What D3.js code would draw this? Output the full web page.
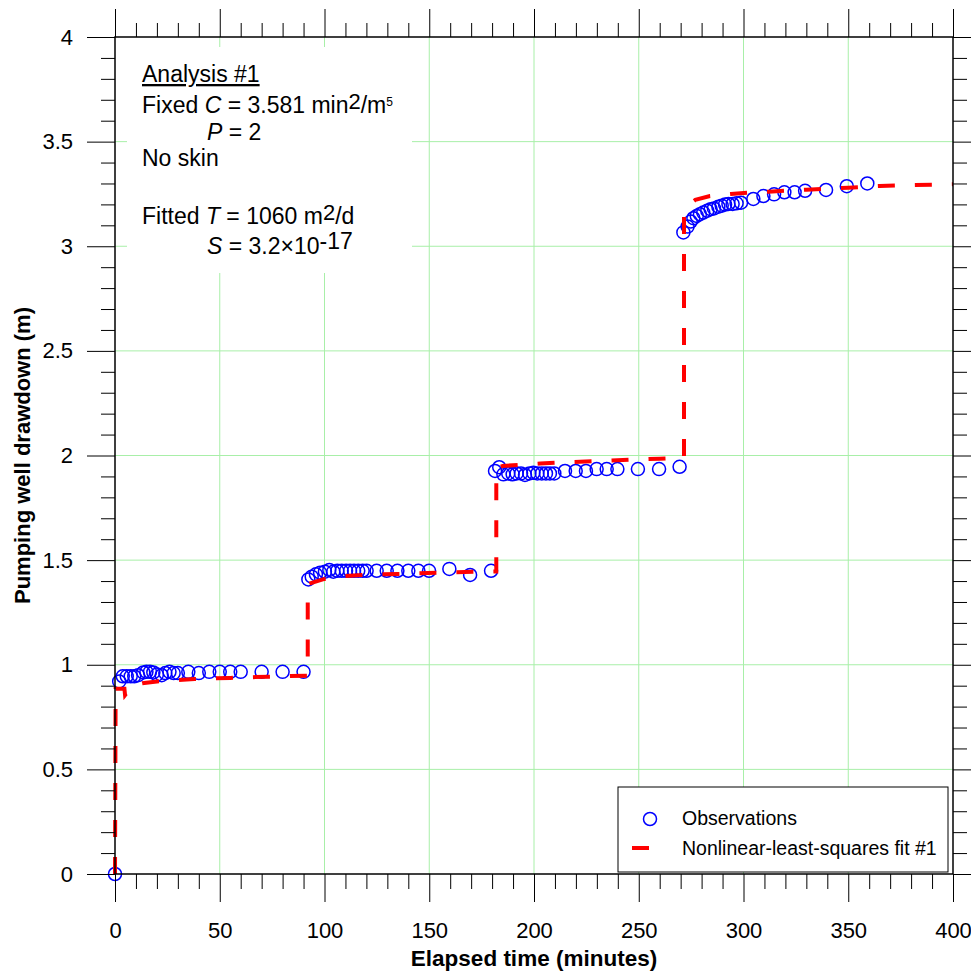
<!DOCTYPE html>
<html>
<head>
<meta charset="utf-8">
<script src="https://cdn.jsdelivr.net/npm/d3@7"></script>
<style>
  body { margin: 0; background: #fff; }
  svg { display: block; font-family: "Liberation Sans", Arial, sans-serif; }
</style>
</head>
<body>
<svg id="chart"></svg>
<script>
// Observed drawdown (minutes, metres)
const obsTime = [
  0, 2, 3.7, 5.6, 7.5, 9.2, 11, 13.5, 15, 16.7, 18.3, 20, 22.3, 24, 26, 28, 30, 35, 40, 45, 50, 55, 60, 70, 80, 90,
  92.3, 93.9, 95.9, 97.9, 100.2, 102.3, 104.2, 106.1, 108.2, 110.3, 112.2, 114.1, 116.1, 118.2, 120.1, 124.9, 129.7, 134.8, 140, 144.8, 149.9, 159.6, 169.5, 179.5,
  181.4, 183.4, 185.4, 187.7, 189.8, 191.7, 193.8, 195.7, 197.8, 199.7, 201.6, 203.7, 205.7, 207.6, 209.7, 214.8, 219.9, 224.8, 229.9, 234.7, 239.8, 249.6, 259.7, 269.5,
  271.3, 273.3, 274.8, 276.1, 277.7, 279.2, 280.8, 282.7, 284.3, 285.9, 288, 289.6, 291.2, 292.8, 294.8, 296.7, 298.8, 304.7, 309.5, 314.6, 319.5, 324.4, 329.4, 339.4, 349.3, 359.1
];
const obsDrawdown = [
  0, 0.92, 0.945, 0.945, 0.945, 0.945, 0.95, 0.963, 0.966, 0.966, 0.963, 0.953, 0.95, 0.96, 0.966, 0.96, 0.96, 0.966, 0.96, 0.966, 0.966, 0.966, 0.966, 0.966, 0.966, 0.966,
  1.408, 1.421, 1.432, 1.44, 1.445, 1.453, 1.445, 1.449, 1.449, 1.449, 1.449, 1.449, 1.449, 1.449, 1.449, 1.449, 1.449, 1.449, 1.449, 1.449, 1.449, 1.458, 1.429, 1.449,
  1.926, 1.944, 1.91, 1.914, 1.91, 1.914, 1.914, 1.907, 1.914, 1.917, 1.914, 1.914, 1.914, 1.914, 1.914, 1.926, 1.926, 1.926, 1.935, 1.935, 1.935, 1.935, 1.935, 1.946,
  3.066, 3.094, 3.118, 3.134, 3.145, 3.153, 3.161, 3.17, 3.177, 3.181, 3.189, 3.194, 3.199, 3.202, 3.202, 3.205, 3.208, 3.226, 3.24, 3.248, 3.258, 3.258, 3.265, 3.269, 3.287, 3.3
];

// Nonlinear-least-squares fit #1
const fitTime = [
  0, 0.3, 4.5, 4.8, 8, 13, 20, 30, 38, 55, 63, 80, 92,
  92, 95, 100, 109, 120, 135, 145, 160, 182,
  182, 185, 193, 203, 211, 222, 230, 246, 260, 271.6,
  271.6, 274, 277, 284, 294, 302, 312, 320, 330, 340, 350, 365, 380, 400
];
const fitDrawdown = [
  0, 0.885, 0.885, 0.855, 0.895, 0.912, 0.92, 0.927, 0.932, 0.937, 0.94, 0.945, 0.948,
  1.385, 1.395, 1.41, 1.423, 1.43, 1.434, 1.437, 1.442, 1.446,
  1.94, 1.95, 1.955, 1.962, 1.966, 1.97, 1.973, 1.98, 1.985, 1.99,
  3.15, 3.2, 3.222, 3.24, 3.25, 3.256, 3.261, 3.265, 3.27, 3.275, 3.28, 3.288, 3.292, 3.296
];

const xTicks = [0, 50, 100, 150, 200, 250, 300, 350, 400];
const yTicks = [0, 0.5, 1, 1.5, 2, 2.5, 3, 3.5, 4];
const xMinorTicks = d3.range(0, 401, 10).filter(d => d % 50 !== 0);
const yMinorTicks = d3.range(0, 41, 1).map(d => d / 10).filter(d => (d * 10) % 5 !== 0);

const svgWidth = 971, svgHeight = 971;
const margin = { top: 37, right: 18, bottom: 97, left: 115 };
const width = svgWidth - margin.left - margin.right;
const height = svgHeight - margin.top - margin.bottom;

const svg = d3.select("#chart")
  .attr("width", svgWidth)
  .attr("height", svgHeight);

const g = svg.append("g")
  .attr("transform", `translate(${margin.left}, ${margin.top})`);

const x = d3.scaleLinear().domain([0, 400]).range([0, width]);
const y = d3.scaleLinear().domain([0, 4]).range([height, 0]);

// grid
const gridColor = "#a8efa8";
g.append("g").selectAll("line")
  .data(xTicks.slice(1, -1))
  .join("line")
  .attr("x1", d => x(d)).attr("x2", d => x(d))
  .attr("y1", 0).attr("y2", height)
  .attr("stroke", gridColor).attr("stroke-width", 1);
g.append("g").selectAll("line")
  .data(yTicks.slice(1, -1))
  .join("line")
  .attr("x1", 0).attr("x2", width)
  .attr("y1", d => y(d)).attr("y2", d => y(d))
  .attr("stroke", gridColor).attr("stroke-width", 1);

// white box behind the annotation text
g.append("rect")
  .attr("x", 12).attr("y", 10)
  .attr("width", 285).attr("height", 226)
  .attr("fill", "#fff");

// observations
g.append("g").selectAll("circle")
  .data(obsTime.map((t, i) => ({ t, s: obsDrawdown[i] })))
  .join("circle")
  .attr("cx", d => x(d.t))
  .attr("cy", d => y(d.s))
  .attr("r", 6.5)
  .attr("fill", "none")
  .attr("stroke", "#0000ff")
  .attr("stroke-width", 1.5);

// fitted curve
const line = d3.line().x(d => x(d.t)).y(d => y(d.s));
g.append("path")
  .datum(fitTime.map((t, i) => ({ t, s: fitDrawdown[i] })))
  .attr("d", line)
  .attr("fill", "none")
  .attr("stroke", "#ff0000")
  .attr("stroke-width", 4)
  .attr("stroke-dasharray", "17,20");

// axes
function styleAxis(sel) {
  sel.select(".domain").remove();
  sel.selectAll(".tick line").attr("stroke", "#000");
  sel.selectAll(".tick text").attr("fill", "#000")
    .attr("font-size", 22).attr("font-family", "Liberation Sans, Arial, sans-serif");
}
const fmt = d => String(d);

g.append("g").attr("transform", `translate(0, ${height})`)
  .call(d3.axisBottom(x).tickValues(xTicks).tickSize(28).tickPadding(20).tickFormat(fmt))
  .call(styleAxis);
g.append("g").attr("transform", `translate(0, ${height})`)
  .call(d3.axisBottom(x).tickValues(xMinorTicks).tickSize(15).tickFormat(""))
  .call(styleAxis);

g.append("g")
  .call(d3.axisTop(x).tickValues(xTicks).tickSize(28).tickFormat(""))
  .call(styleAxis);
g.append("g")
  .call(d3.axisTop(x).tickValues(xMinorTicks).tickSize(14).tickFormat(""))
  .call(styleAxis);

g.append("g")
  .call(d3.axisLeft(y).tickValues(yTicks).tickSize(28).tickPadding(14).tickFormat(fmt))
  .call(styleAxis);
g.append("g")
  .call(d3.axisLeft(y).tickValues(yMinorTicks).tickSize(14).tickFormat(""))
  .call(styleAxis);

g.append("g").attr("transform", `translate(${width}, 0)`)
  .call(d3.axisRight(y).tickValues(yTicks).tickSize(28).tickFormat(""))
  .call(styleAxis);
g.append("g").attr("transform", `translate(${width}, 0)`)
  .call(d3.axisRight(y).tickValues(yMinorTicks).tickSize(14).tickFormat(""))
  .call(styleAxis);

// frame
g.append("rect")
  .attr("width", width).attr("height", height)
  .attr("fill", "none").attr("stroke", "#000").attr("stroke-width", 1.5);

// axis titles
svg.append("text")
  .attr("x", margin.left + width / 2)
  .attr("y", 966)
  .attr("text-anchor", "middle")
  .attr("font-size", 22.5).attr("font-weight", "bold")
  .text("Elapsed time (minutes)");
svg.append("text")
  .attr("transform", `translate(30, ${margin.top + height / 2}) rotate(-90)`)
  .attr("text-anchor", "middle")
  .attr("font-size", 22).attr("font-weight", "bold")
  .text("Pumping well drawdown (m)");

// annotation
const note = svg.append("g").attr("font-size", 23).attr("fill", "#000");
note.append("text").attr("x", 142).attr("y", 82)
  .attr("text-decoration", "underline").text("Analysis #1");

const t1 = note.append("text").attr("x", 142).attr("y", 113);
t1.append("tspan").text("Fixed ");
t1.append("tspan").attr("font-style", "italic").text("C");
t1.append("tspan").text(" = 3.581 min");
t1.append("tspan").attr("dy", -4).attr("font-size", 22).text("2");
t1.append("tspan").attr("dy", 4).text("/m");
t1.append("tspan").attr("dy", -7).attr("font-size", 12).text("5");

const t2 = note.append("text").attr("x", 207).attr("y", 140);
t2.append("tspan").attr("font-style", "italic").text("P");
t2.append("tspan").text(" = 2");

note.append("text").attr("x", 142).attr("y", 166).text("No skin");

const t3 = note.append("text").attr("x", 142).attr("y", 224);
t3.append("tspan").text("Fitted ");
t3.append("tspan").attr("font-style", "italic").text("T");
t3.append("tspan").text(" = 1060 m");
t3.append("tspan").attr("dy", -4).attr("font-size", 22).text("2");
t3.append("tspan").attr("dy", 4).text("/d");

const t4 = note.append("text").attr("x", 207).attr("y", 254);
t4.append("tspan").attr("font-style", "italic").text("S");
t4.append("tspan").text(" = 3.2×10");
t4.append("tspan").attr("dy", -5).text("-17");

// legend
const legend = svg.append("g");
legend.append("rect")
  .attr("x", 618).attr("y", 787).attr("width", 330).attr("height", 85)
  .attr("fill", "#fff").attr("stroke", "#000").attr("stroke-width", 1);
legend.append("circle")
  .attr("cx", 650).attr("cy", 819).attr("r", 6.5)
  .attr("fill", "none").attr("stroke", "#0000ff").attr("stroke-width", 1.5);
legend.append("line")
  .attr("x1", 632).attr("x2", 649).attr("y1", 848).attr("y2", 848)
  .attr("stroke", "#ff0000").attr("stroke-width", 4);
legend.append("text").attr("x", 682).attr("y", 825).attr("font-size", 19.5).text("Observations");
legend.append("text").attr("x", 682).attr("y", 855).attr("font-size", 19.5).text("Nonlinear-least-squares fit #1");
</script>
</body>
</html>
